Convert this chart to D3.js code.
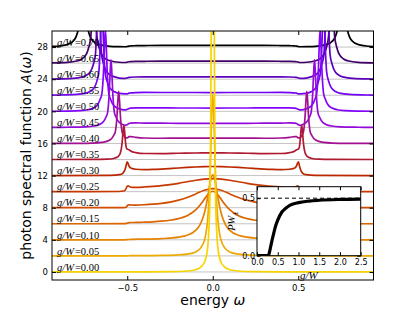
<!DOCTYPE html>
<html>
<head>
<meta charset="utf-8">
<script src="https://cdn.jsdelivr.net/npm/d3@7"></script>
<style>
  body { margin: 0; background: #fff; }
  svg { display: block; }
</style>
</head>
<body>
<div id="chart"></div>
<script>
// ---- data --------------------------------------------------------------
// coupling g/W of each curve, bottom to top, and its vertical offset
var couplings = [0.00, 0.05, 0.10, 0.15, 0.20, 0.25, 0.30, 0.35, 0.40, 0.45, 0.50, 0.55, 0.60, 0.65, 0.70];
var curveOffsets = [0, 2, 4, 6, 8, 10, 12, 14, 16, 18, 20, 22, 24, 26, 28];

// spectral function A(w) for w >= 0, [w, A]; the spectra are symmetric in w
var spec000 = [[0,80],[0.005,50],[0.009,30],[0.012,18],[0.016,10],[0.022,5.5],[0.03,3],[0.045,1.4],[0.07,0.6],[0.1,0.28],[0.15,0.12],[0.25,0.04],[0.4,0.015],[0.6,0.006],[0.95,0.002]];
var spec005 = [[0,20.1],[0.005,18.3],[0.01,14.5],[0.015,10.7],[0.02,7.85],[0.03,4.45],[0.04,2.77],[0.05,1.87],[0.07,1.0],[0.1,0.5],[0.15,0.226],[0.2,0.128],[0.3,0.057],[0.4,0.032],[0.48,0.023],[0.5,0.01],[0.52,0.003],[0.95,0]];
var spec010 = [[0,8.08],[0.01,7.63],[0.02,6.53],[0.03,5.27],[0.04,4.15],[0.05,3.25],[0.075,1.86],[0.1,1.17],[0.15,0.564],[0.2,0.328],[0.3,0.15],[0.4,0.087],[0.48,0.064],[0.5,0.03],[0.52,0.005],[0.95,0]];
var spec015 = [[0,4.05],[0.025,3.73],[0.05,3.03],[0.075,2.31],[0.1,1.73],[0.15,1.01],[0.2,0.644],[0.25,0.44],[0.3,0.319],[0.35,0.243],[0.4,0.194],[0.45,0.162],[0.48,0.16],[0.495,0.12],[0.505,0.04],[0.52,0.01],[0.95,0]];
var spec020 = [[0,2.38],[0.05,2.17],[0.1,1.71],[0.15,1.27],[0.2,0.936],[0.25,0.705],[0.3,0.548],[0.35,0.44],[0.4,0.369],[0.45,0.332],[0.48,0.34],[0.49,0.36],[0.497,0.3],[0.505,0.1],[0.52,0.02],[0.95,0]];
var spec025 = [[0,1.62],[0.05,1.56],[0.1,1.42],[0.15,1.23],[0.2,1.04],[0.25,0.875],[0.3,0.743],[0.35,0.645],[0.4,0.58],[0.45,0.53],[0.47,0.52],[0.485,0.6],[0.495,0.72],[0.502,0.62],[0.51,0.25],[0.52,0.08],[0.55,0.02],[0.95,0]];
var spec030 = [[0,1.13],[0.05,1.11],[0.1,1.07],[0.15,1.01],[0.2,0.945],[0.25,0.876],[0.3,0.813],[0.35,0.766],[0.4,0.745],[0.45,0.79],[0.47,0.86],[0.48,0.95],[0.49,1.2],[0.496,1.55],[0.501,1.72],[0.506,1.3],[0.513,0.75],[0.525,0.32],[0.545,0.12],[0.6,0.03],[0.95,0]];
var spec035 = [[0,0.83],[0.1,0.81],[0.2,0.78],[0.3,0.74],[0.4,0.75],[0.45,0.86],[0.48,1.06],[0.49,1.21],[0.5,1.3],[0.505,1.43],[0.51,2.1],[0.515,3.4],[0.52,4.3],[0.525,3.4],[0.53,2.1],[0.535,1.3],[0.54,0.85],[0.55,0.45],[0.56,0.28],[0.58,0.13],[0.62,0.05],[0.7,0.015],[0.95,0]];
var spec040 = [[0,0.66],[0.1,0.66],[0.2,0.655],[0.3,0.65],[0.4,0.68],[0.45,0.76],[0.48,0.85],[0.49,0.84],[0.5,0.7],[0.51,0.69],[0.52,0.98],[0.53,1.43],[0.535,2.14],[0.54,3.41],[0.545,5.3],[0.55,6.5],[0.555,5.3],[0.56,3.41],[0.565,2.14],[0.57,1.43],[0.58,0.98],[0.59,0.65],[0.6,0.455],[0.62,0.26],[0.65,0.13],[0.7,0.052],[0.8,0.015],[0.95,0]];
var spec045 = [[0,0.5],[0.2,0.51],[0.3,0.52],[0.4,0.54],[0.45,0.55],[0.48,0.53],[0.49,0.49],[0.5,0.34],[0.51,0.25],[0.525,0.34],[0.545,0.59],[0.555,0.84],[0.565,1.26],[0.575,1.85],[0.58,2.77],[0.585,4.4],[0.59,6.85],[0.595,8.4],[0.6,6.85],[0.605,4.4],[0.61,2.77],[0.615,1.85],[0.625,1.26],[0.635,0.84],[0.645,0.59],[0.665,0.34],[0.695,0.17],[0.745,0.067],[0.85,0.02],[0.95,0.005]];
var spec050 = [[0,0.41],[0.2,0.415],[0.3,0.42],[0.4,0.43],[0.45,0.43],[0.48,0.39],[0.49,0.35],[0.5,0.25],[0.51,0.17],[0.53,0.22],[0.558,0.41],[0.578,0.71],[0.588,1.02],[0.598,1.53],[0.608,2.24],[0.613,3.37],[0.618,5.35],[0.623,8.3],[0.628,10.2],[0.633,8.3],[0.638,5.35],[0.643,3.37],[0.648,2.24],[0.658,1.53],[0.668,1.02],[0.678,0.71],[0.698,0.41],[0.728,0.2],[0.778,0.08],[0.85,0.03],[0.95,0.01]];
var spec055 = [[0,0.34],[0.2,0.345],[0.3,0.345],[0.4,0.35],[0.45,0.33],[0.48,0.29],[0.49,0.26],[0.5,0.18],[0.51,0.17],[0.548,0.23],[0.578,0.46],[0.598,0.8],[0.608,1.15],[0.618,1.73],[0.63,2.9],[0.635,4.6],[0.64,7.3],[0.644,10.0],[0.648,11.5],[0.652,10.0],[0.656,7.3],[0.661,4.6],[0.666,2.9],[0.678,1.73],[0.688,1.15],[0.698,0.8],[0.718,0.46],[0.748,0.23],[0.8,0.1],[0.9,0.03],[0.95,0.02]];
var spec060 = [[0,0.285],[0.2,0.285],[0.3,0.28],[0.4,0.28],[0.45,0.27],[0.48,0.24],[0.49,0.22],[0.5,0.16],[0.51,0.11],[0.53,0.1],[0.568,0.25],[0.598,0.5],[0.618,0.87],[0.628,1.24],[0.638,1.86],[0.65,3.1],[0.655,4.97],[0.66,7.85],[0.664,10.8],[0.668,12.4],[0.672,10.8],[0.676,7.85],[0.681,4.97],[0.686,3.1],[0.698,1.86],[0.708,1.24],[0.718,0.87],[0.738,0.5],[0.768,0.25],[0.82,0.1],[0.9,0.035],[0.95,0.025]];
var spec065 = [[0,0.245],[0.2,0.245],[0.3,0.24],[0.4,0.23],[0.45,0.22],[0.48,0.19],[0.49,0.17],[0.5,0.12],[0.51,0.08],[0.55,0.11],[0.595,0.26],[0.625,0.52],[0.645,0.92],[0.655,1.31],[0.665,1.97],[0.677,3.3],[0.682,5.25],[0.687,8.3],[0.691,11.4],[0.695,13.1],[0.699,11.4],[0.703,8.3],[0.708,5.25],[0.713,3.3],[0.725,1.97],[0.735,1.31],[0.745,0.92],[0.765,0.52],[0.795,0.26],[0.85,0.1],[0.95,0.04]];
var spec070 = [[0,0.21],[0.2,0.205],[0.3,0.2],[0.4,0.19],[0.45,0.17],[0.48,0.14],[0.49,0.12],[0.5,0.075],[0.51,0.04],[0.55,0.05],[0.6,0.09],[0.658,0.27],[0.688,0.54],[0.708,0.95],[0.718,1.36],[0.728,2.04],[0.74,3.4],[0.745,5.4],[0.75,8.6],[0.754,11.8],[0.758,13.6],[0.762,11.8],[0.766,8.6],[0.771,5.4],[0.776,3.4],[0.788,2.04],[0.798,1.36],[0.808,0.95],[0.828,0.54],[0.858,0.27],[0.91,0.1],[0.95,0.07]];
var spectra = [spec000, spec005, spec010, spec015, spec020, spec025, spec030, spec035, spec040, spec045, spec050, spec055, spec060, spec065, spec070];

// inset: bound state weight P W against g/W
var insetG = [0, 0.27, 0.30, 0.33, 0.36, 0.40, 0.45, 0.50, 0.60, 0.70, 0.80, 1.00, 1.25, 1.50, 2.00, 2.50];
var insetP = [0, 0, 0.03, 0.08, 0.13, 0.19, 0.26, 0.31, 0.38, 0.415, 0.44, 0.462, 0.475, 0.482, 0.489, 0.492];

// tick values
var xTicks = [-0.5, 0.0, 0.5];
var yTicks = [0, 4, 8, 12, 16, 20, 24, 28];
var insetXTicks = [0.0, 0.5, 1.0, 1.5, 2.0, 2.5];
var insetYTicks = [0.0, 0.5];

// ---- layout -------------------------------------------------------------
var attrs = {
    svgWidth: 415,
    svgHeight: 312,
    plotLeft: 52,
    plotRight: 373.5,
    plotTop: 31,
    plotBottom: 280,
    insetLeft: 257,
    insetRight: 360.7,
    insetTop: 186.7,
    insetBottom: 255.7,
    tickFont: 'DejaVu Sans, sans-serif',
    mathFont: 'Liberation Serif, DejaVu Serif, serif',
    gridColor: '#c4c4c4'
};

// gnuplot-like colour map, black -> purple -> red -> orange -> yellow
function curveColor(g) {
    var t = 0.94 * (1 - g / 0.7);
    var r = Math.sqrt(t), gr = t * t * t, b = Math.max(0, Math.sin(2 * Math.PI * t));
    return d3.rgb(255 * r, 255 * gr, 255 * b).formatHex();
}

function mirror(half) {
    var left = half.filter(function (d) { return d[0] > 0; })
        .map(function (d) { return [-d[0], d[1]]; }).reverse();
    return left.concat(half);
}

var svg = d3.select('#chart').append('svg')
    .attr('width', attrs.svgWidth)
    .attr('height', attrs.svgHeight);

var x = d3.scaleLinear().domain([-0.94, 0.94]).range([attrs.plotLeft, attrs.plotRight]);
var y = d3.scaleLinear().domain([-1, 30]).range([attrs.plotBottom, attrs.plotTop]);

svg.append('clipPath').attr('id', 'plotClip')
    .append('rect')
    .attr('x', attrs.plotLeft).attr('y', attrs.plotTop)
    .attr('width', attrs.plotRight - attrs.plotLeft)
    .attr('height', attrs.plotBottom - attrs.plotTop);

var plot = svg.append('g').attr('clip-path', 'url(#plotClip)');

// grey baselines
plot.selectAll('line.base').data(curveOffsets).enter().append('line')
    .attr('class', 'base')
    .attr('x1', attrs.plotLeft).attr('x2', attrs.plotRight)
    .attr('y1', function (d) { return y(d); })
    .attr('y2', function (d) { return y(d); })
    .attr('stroke', attrs.gridColor)
    .attr('stroke-width', 1);

var curves = couplings.map(function (g, i) {
    return { g: g, offset: curveOffsets[i], points: mirror(spectra[i]) };
});

// draw top curve first so the narrow yellow peaks end up in front
plot.selectAll('path.spec').data(curves.slice().reverse()).enter().append('path')
    .attr('class', 'spec')
    .attr('fill', 'none')
    .attr('stroke', function (d) { return curveColor(d.g); })
    .attr('stroke-width', 1.7)
    .attr('stroke-linejoin', 'round')
    .attr('d', function (d) {
        return d3.line()
            .x(function (p) { return x(p[0]); })
            .y(function (p) { return y(p[1] + d.offset); })
            .curve(d3.curveMonotoneX)(d.points);
    });

// curve labels g/W = ...
var fmt = d3.format('.2f');
var labels = svg.selectAll('text.glabel').data(curves).enter().append('text')
    .attr('class', 'glabel')
    .attr('x', attrs.plotLeft + 5)
    .attr('y', function (d) { return y(d.offset) - 1.3; })
    .attr('font-family', attrs.mathFont)
    .attr('font-size', 10.5)
    .attr('fill', '#000');
labels.append('tspan').attr('font-style', 'italic').text('g/W');
labels.append('tspan').attr('dx', 1).text(function (d) { return '=' + fmt(d.g); });

// frame and ticks
function styleAxis(sel, size) {
    sel.select('.domain').remove();
    sel.selectAll('.tick line').attr('stroke', '#000').attr('stroke-width', 1);
    sel.selectAll('text').attr('font-family', attrs.tickFont).attr('font-size', size).attr('fill', '#000');
}
var tickFmt = function (d) { return d3.format('.1f')(d).replace('-', '\u2212'); };

svg.append('g').attr('transform', 'translate(0,' + attrs.plotBottom + ')')
    .call(d3.axisBottom(x).tickValues(xTicks).tickSize(-4).tickPadding(4.5).tickFormat(tickFmt))
    .call(styleAxis, 8.5);
svg.append('g').attr('transform', 'translate(0,' + attrs.plotTop + ')')
    .call(d3.axisTop(x).tickValues(xTicks).tickSize(-4).tickFormat(''))
    .call(styleAxis, 8.5);
svg.append('g').attr('transform', 'translate(' + attrs.plotLeft + ',0)')
    .call(d3.axisLeft(y).tickValues(yTicks).tickSize(-4).tickPadding(4).tickFormat(d3.format('d')))
    .call(styleAxis, 8.5);
svg.append('g').attr('transform', 'translate(' + attrs.plotRight + ',0)')
    .call(d3.axisRight(y).tickValues(yTicks).tickSize(-4).tickFormat(''))
    .call(styleAxis, 8.5);

svg.append('rect')
    .attr('x', attrs.plotLeft).attr('y', attrs.plotTop)
    .attr('width', attrs.plotRight - attrs.plotLeft)
    .attr('height', attrs.plotBottom - attrs.plotTop)
    .attr('fill', 'none').attr('stroke', '#000').attr('stroke-width', 1);

// axis titles
var xTitle = svg.append('text')
    .attr('x', (attrs.plotLeft + attrs.plotRight) / 2).attr('y', 305)
    .attr('text-anchor', 'middle')
    .attr('font-family', attrs.tickFont).attr('font-size', 14);
xTitle.append('tspan').text('energy ');
xTitle.append('tspan').attr('font-style', 'italic').text('\u03c9');

var yTitle = svg.append('text')
    .attr('transform', 'translate(31,' + ((attrs.plotTop + attrs.plotBottom) / 2) + ') rotate(-90)')
    .attr('text-anchor', 'middle')
    .attr('font-family', attrs.tickFont).attr('font-size', 14);
yTitle.append('tspan').text('photon spectral function ');
yTitle.append('tspan').attr('font-style', 'italic').text('A');
yTitle.append('tspan').text('(');
yTitle.append('tspan').attr('font-style', 'italic').text('\u03c9');
yTitle.append('tspan').text(')');

// ---- inset ----------------------------------------------------------------
var xi = d3.scaleLinear().domain([0, 2.5]).range([attrs.insetLeft, attrs.insetRight]);
var yi = d3.scaleLinear().domain([0, 0.6]).range([attrs.insetBottom, attrs.insetTop]);

var inset = svg.append('g');
inset.append('rect')
    .attr('x', attrs.insetLeft).attr('y', attrs.insetTop)
    .attr('width', attrs.insetRight - attrs.insetLeft)
    .attr('height', attrs.insetBottom - attrs.insetTop)
    .attr('fill', '#fff');

inset.append('clipPath').attr('id', 'insetClip')
    .append('rect')
    .attr('x', attrs.insetLeft).attr('y', attrs.insetTop)
    .attr('width', attrs.insetRight - attrs.insetLeft)
    .attr('height', attrs.insetBottom - attrs.insetTop);

inset.append('line')
    .attr('x1', attrs.insetLeft).attr('x2', attrs.insetRight)
    .attr('y1', yi(0.5)).attr('y2', yi(0.5))
    .attr('stroke', '#000').attr('stroke-width', 1)
    .attr('stroke-dasharray', '4,3');

inset.append('path')
    .datum(insetG.map(function (g, i) { return [g, insetP[i]]; }))
    .attr('clip-path', 'url(#insetClip)')
    .attr('fill', 'none')
    .attr('stroke', '#000')
    .attr('stroke-width', 3.2)
    .attr('d', d3.line()
        .x(function (d) { return xi(d[0]); })
        .y(function (d) { return yi(d[1]); })
        .curve(d3.curveMonotoneX));

inset.append('g').attr('transform', 'translate(0,' + attrs.insetBottom + ')')
    .call(d3.axisBottom(xi).tickValues(insetXTicks).tickSize(-3.5).tickPadding(3.5).tickFormat(d3.format('.1f')))
    .call(styleAxis, 8);
inset.append('g').attr('transform', 'translate(0,' + attrs.insetTop + ')')
    .call(d3.axisTop(xi).tickValues(insetXTicks).tickSize(-3.5).tickFormat(''))
    .call(styleAxis, 8);
inset.append('g').attr('transform', 'translate(' + attrs.insetLeft + ',0)')
    .call(d3.axisLeft(yi).tickValues(insetYTicks).tickSize(-3.5).tickPadding(2).tickFormat(d3.format('.1f')))
    .call(styleAxis, 8);
inset.append('g').attr('transform', 'translate(' + attrs.insetRight + ',0)')
    .call(d3.axisRight(yi).tickValues(insetYTicks).tickSize(-3.5).tickFormat(''))
    .call(styleAxis, 8);

inset.append('rect')
    .attr('x', attrs.insetLeft).attr('y', attrs.insetTop)
    .attr('width', attrs.insetRight - attrs.insetLeft)
    .attr('height', attrs.insetBottom - attrs.insetTop)
    .attr('fill', 'none').attr('stroke', '#000').attr('stroke-width', 1);

inset.append('text')
    .attr('x', (attrs.insetLeft + attrs.insetRight) / 2).attr('y', 278.5)
    .attr('text-anchor', 'middle')
    .attr('font-family', attrs.mathFont).attr('font-size', 11)
    .attr('font-style', 'italic')
    .text('g/W');

var pLabel = inset.append('text')
    .attr('transform', 'translate(235,' + ((attrs.insetTop + attrs.insetBottom) / 2) + ') rotate(-90)')
    .attr('text-anchor', 'middle')
    .attr('font-family', attrs.mathFont).attr('font-size', 10.5);
pLabel.append('tspan').attr('font-style', 'italic').text('PW');
pLabel.append('tspan').attr('font-size', 7.5).attr('dy', 2.5).text('\u00b1');
</script>
</body>
</html>
